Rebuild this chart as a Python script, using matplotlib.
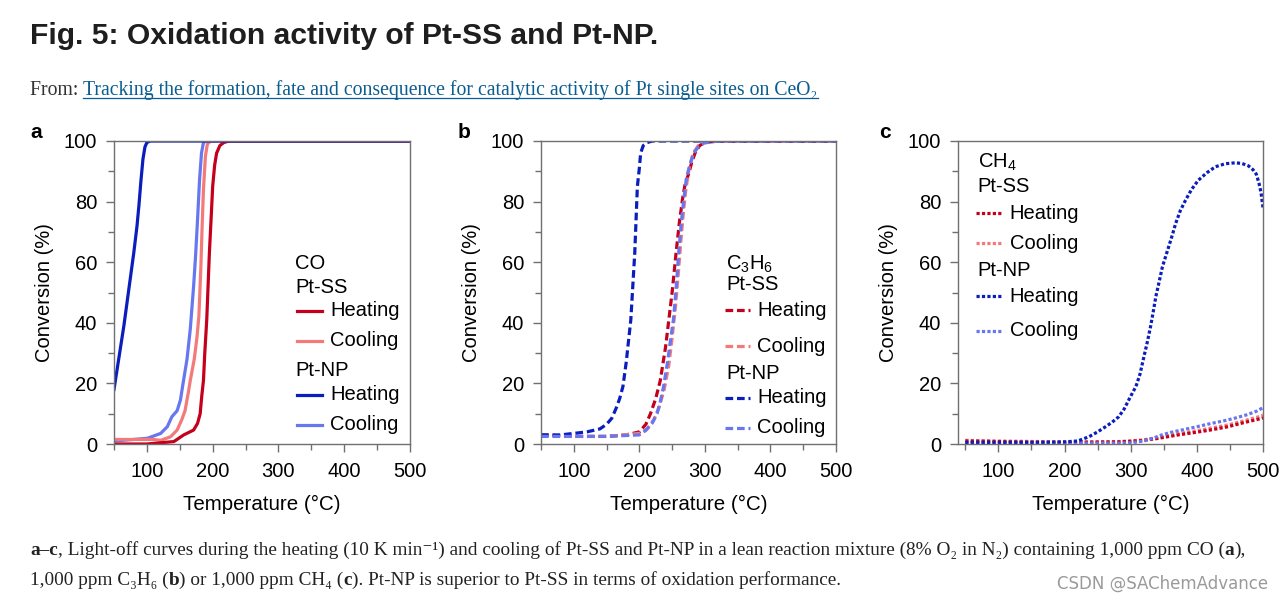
import numpy as np
import matplotlib
matplotlib.use("Agg")
import matplotlib.pyplot as plt
from matplotlib import font_manager
from matplotlib.ticker import MultipleLocator

# ---- data ----
# a: CO
co_ss_heat_T = [50, 100, 141, 156, 171, 177, 181, 183.5, 186, 188, 191, 193, 195, 198, 200, 203, 206, 211, 217, 225, 300, 400, 500]
co_ss_heat = [0, 0, 0.8, 3, 4.6, 6.8, 10, 16, 21, 30, 41, 52, 63, 76, 85, 92, 96, 98.5, 99.5, 100, 100, 100, 100]
co_ss_cool_T = [50, 80, 110, 121, 136, 146, 153, 158, 163, 166, 172, 176, 179, 182, 184, 186, 189, 192, 197, 300, 500]
co_ss_cool = [1.5, 1.5, 1.5, 1.2, 2.4, 4.6, 8, 11, 17, 21, 28, 35, 42, 58, 72, 84, 95, 99, 100, 100, 100]
co_np_heat_T = [50, 55, 60, 65, 70, 75, 80, 85, 88, 91, 94, 97, 100, 105, 110, 200, 300, 400, 500]
co_np_heat = [18, 25, 32, 39, 47, 55, 63, 72, 79, 87, 94, 98, 99.5, 100, 100, 100, 100, 100, 100]
co_np_cool_T = [50, 80, 101, 121, 131, 138, 146, 151, 155, 161, 166, 171, 174, 177, 180, 183, 186, 190, 300, 500]
co_np_cool = [1, 1.5, 1.9, 3.5, 5.7, 9, 11, 14.5, 20, 28, 38, 52, 62, 74, 87, 96, 99.5, 100, 100, 100]

# b: C3H6
c3_ss_heat_T = [50, 100, 150, 180, 200, 210, 217, 225, 232, 240, 245, 250, 256, 261, 266, 270, 275, 280, 285, 292, 300, 320, 500]
c3_ss_heat = [3, 2.5, 2.5, 3, 4, 6.5, 10, 15, 21, 32, 41, 50, 63, 73, 81, 86, 89, 93, 96, 98.5, 99.5, 100, 100]
c3_ss_cool_T = [50, 100, 150, 200, 212, 222, 230, 238, 245, 250, 255, 259, 263, 267, 271, 276, 282, 290, 300, 320, 500]
c3_ss_cool = [3, 2.5, 2.5, 3.5, 5, 8, 12, 18, 26, 35, 45, 55, 66, 76, 84, 91, 96, 98.5, 99.5, 100, 100]
c3_np_heat_T = [50, 80, 100, 120, 140, 150, 158, 165, 170, 175, 180, 184, 187, 190, 193, 195, 197, 200, 202, 206, 212, 220, 300, 400, 500]
c3_np_heat = [3, 3, 3.5, 4, 5, 6.5, 8.5, 12, 15, 19, 27, 35, 41, 52, 63, 74, 85, 91, 96, 98.5, 99.5, 100, 100, 100, 100]
c3_np_cool_T = [50, 100, 150, 200, 210, 220, 227, 232, 237, 243, 248, 252, 256, 260, 264, 268, 272, 277, 283, 290, 298, 320, 500]
c3_np_cool = [2.5, 2.5, 2.5, 3, 4.5, 7, 10, 14, 19, 27, 35, 41, 51, 63, 73, 81, 88, 92, 96, 98, 99.3, 100, 100]

# c: CH4
ch4_ss_T = [50, 100, 200, 280, 300, 320, 340, 372, 400, 420, 447, 470, 497, 500]
ch4_ss_heat = [1, 0.8, 0.5, 0.7, 0.9, 1.2, 1.8, 3, 3.9, 4.6, 5.7, 7, 8.4, 8.6]
ch4_ss_cool = [1.2, 1, 0.7, 0.8, 1, 1.4, 2.1, 3.4, 4.4, 5.2, 6.3, 7.6, 9.2, 9.5]
ch4_np_heat_T = [50, 100, 150, 200, 220, 237, 250, 262, 272, 282, 290, 297, 303, 308, 314, 320, 325, 330, 334, 338, 343, 348,
                 353, 358, 363, 368, 375, 383, 392, 402, 415, 428, 443, 458, 468, 478, 485, 490, 494, 497, 500]
ch4_np_heat = [0.5, 0.5, 0.5, 0.7, 1, 2.4, 4, 5.7, 7.2, 9, 11.5, 14.5, 17, 19, 23, 28.8, 33.5, 38.7, 43.5, 48.6, 53.5, 58.5,
               62, 65.5, 69, 72.8, 77, 80.5, 84, 87, 89.5, 91.5, 92.5, 92.8, 92.6, 91.8, 90.5, 89, 86, 83, 78]
ch4_np_cool_T = [50, 100, 200, 280, 300, 320, 335, 347, 360, 377, 400, 422, 440, 457, 475, 490, 500]
ch4_np_cool = [0.3, 0.3, 0.3, 0.3, 0.4, 1, 2, 3, 3.8, 4.6, 5.7, 6.8, 7.6, 8.5, 9.6, 10.8, 12]

xticks = [100, 200, 300, 400, 500]
yticks = [0, 20, 40, 60, 80, 100]

DRED, LRED = '#c4001c', '#f47a7a'
DBLUE, LBLUE = '#0a1dbd', '#6677f0'


def pick(*names):
    have = {f.name for f in font_manager.fontManager.ttflist}
    for n in names:
        if n in have:
            return n
    return 'DejaVu Sans'


SANS = pick('Liberation Sans', 'Arial')
NARROW = pick('Liberation Sans Narrow', 'DejaVu Sans Condensed', 'Liberation Sans')
SERIF = pick('Liberation Serif', 'DejaVu Serif')

plt.rcParams['font.family'] = [SANS, 'DejaVu Sans']
plt.rcParams['mathtext.fontset'] = 'custom'
plt.rcParams['mathtext.rm'] = SANS
plt.rcParams['mathtext.it'] = SANS + ':italic'
plt.rcParams['mathtext.bf'] = SANS + ':bold'

fig = plt.figure(figsize=(12.84, 6.01), dpi=100)
W, H = 1284, 601


def ax_at(x0, x1, y0, y1):
    return fig.add_axes([x0 / W, 1 - y1 / H, (x1 - x0) / W, (y1 - y0) / H])


axa = ax_at(114, 410, 141, 444)
axb = ax_at(541, 836, 141, 444)
axc = ax_at(958, 1263, 141, 444)

lw = 2.3
dash = (0, (2.4, 1.2))
dot = (0, (1.0, 0.7))

axa.plot(co_np_cool_T, co_np_cool, color=LBLUE, lw=lw)
axa.plot(co_ss_cool_T, co_ss_cool, color=LRED, lw=lw)
axa.plot(co_ss_heat_T, co_ss_heat, color=DRED, lw=lw)
axa.plot(co_np_heat_T, co_np_heat, color=DBLUE, lw=lw)

axb.plot(c3_ss_heat_T, c3_ss_heat, color=DRED, lw=lw, ls=dash)
axb.plot(c3_ss_cool_T, c3_ss_cool, color=LRED, lw=lw, ls=dash)
axb.plot(c3_np_heat_T, c3_np_heat, color=DBLUE, lw=lw, ls=dash)
axb.plot(c3_np_cool_T, c3_np_cool, color=LBLUE, lw=lw, ls=dash)

axc.plot(ch4_ss_T, ch4_ss_cool, color=LRED, lw=lw, ls=dot)
axc.plot(ch4_ss_T, ch4_ss_heat, color=DRED, lw=lw, ls=dot)
axc.plot(ch4_np_cool_T, ch4_np_cool, color=LBLUE, lw=lw, ls=dot)
axc.plot(ch4_np_heat_T, ch4_np_heat, color=DBLUE, lw=lw, ls=dot)

for ax, x0 in [(axa, 50), (axb, 50), (axc, 39)]:
    ax.set_xlim(x0, 500)
    ax.set_ylim(0, 100)
    ax.set_xticks(xticks)
    ax.set_yticks(yticks)
    ax.xaxis.set_minor_locator(MultipleLocator(50))
    ax.yaxis.set_minor_locator(MultipleLocator(10))
    ax.tick_params(which='both', direction='out', color='#707070', width=1, labelsize=14.5)
    ax.tick_params(which='major', length=6)
    ax.tick_params(which='minor', length=4)
    ax.tick_params(axis='x', which='both', bottom=True, top=False, pad=7)
    ax.tick_params(axis='y', which='both', pad=6)
    for s in ax.spines.values():
        s.set_color('#707070')
        s.set_linewidth(1)
    ax.set_xlabel('Temperature (°C)', fontsize=14.8, labelpad=10)
    ax.set_ylabel('Conversion (%)', fontsize=14.5, labelpad=7)


def legend(ax, x_head, x_h0, x_h1, x_txt, ys, heads, ls):
    # ys: header1, header2, heat, cool, header3, heat, cool (axes fraction)
    t = ax.transAxes
    kw = dict(transform=t, fontsize=14.5, va='center', ha='left')
    ax.text(x_head, ys[0], heads, **kw)
    ax.text(x_head, ys[1], 'Pt-SS', **kw)
    ax.text(x_head, ys[4], 'Pt-NP', **kw)
    for y, c, lab in [(ys[2], DRED, 'Heating'), (ys[3], LRED, 'Cooling'),
                      (ys[5], DBLUE, 'Heating'), (ys[6], LBLUE, 'Cooling')]:
        ax.plot([x_h0, x_h1], [y, y], transform=t, color=c, lw=lw, ls=ls, clip_on=False)
        ax.text(x_txt, y, lab, **kw)


legend(axa, 0.612, 0.618, 0.703, 0.73, [0.597, 0.518, 0.439, 0.340, 0.241, 0.162, 0.063], 'CO', '-')
legend(axb, 0.628, 0.624, 0.71, 0.732, [0.592, 0.525, 0.442, 0.323, 0.234, 0.152, 0.053], r'C$_3$H$_6$', dash)
legend(axc, 0.064, 0.059, 0.144, 0.17, [0.928, 0.851, 0.762, 0.663, 0.571, 0.488, 0.373], r'CH$_4$', dot)

for x, s in [(30, 'a'), (458, 'b'), (879, 'c')]:
    fig.text(x / W, 1 - 133 / H, s, fontsize=15, fontweight='bold', va='center', ha='left')

# ---- header / caption ----
fig.text(30 / W, 1 - 36 / H, 'Fig. 5: Oxidation activity of Pt-SS and Pt-NP.',
         family=[NARROW, 'DejaVu Sans'], fontsize=21.6, fontweight='bold', va='center', color='#1e1e1e')

renderer = fig.canvas.get_renderer()


def rich(x, y, pieces, size, family):
    xpx = x
    for s, kw in pieces:
        t = fig.text(xpx / W, 1 - y / H, s, fontsize=size, family=family, va='baseline', ha='left', **kw)
        bb = t.get_window_extent(renderer)
        if kw.get('gid') == 'link':
            ybase = 1 - (y + 3) / H
            fig.add_artist(plt.Line2D([xpx / W, bb.x1 / W], [ybase, ybase], color=kw['color'], lw=0.9,
                                      transform=fig.transFigure))
        xpx = bb.x1


cap_fam = [SERIF, 'DejaVu Serif']
rich(30, 95, [('From: ', dict(color='#333333')),
              ('Tracking the formation, fate and consequence for catalytic activity of Pt single sites on CeO₂',
               dict(color='#0b5d91', gid='link'))], 14.2, cap_fam)

B = dict(fontweight='bold', color='#222222')
N = dict(color='#222222')
rich(30, 555, [('a–c', B),
               (', Light-off curves during the heating (10 K min⁻¹) and cooling of Pt-SS and Pt-NP in a lean reaction '
                'mixture (8% O₂ in N₂) containing 1,000 ppm CO (', N), ('a', B), ('),', N)], 13.9, cap_fam)
rich(30, 585, [('1,000 ppm C₃H₆ (', N), ('b', B), (') or 1,000 ppm CH₄ (', N), ('c', B),
               ('). Pt-NP is superior to Pt-SS in terms of oxidation performance.', N)], 13.9, cap_fam)

fig.text(1268 / W, 1 - 584 / H, 'CSDN @SAChemAdvance', fontsize=12, color='#9a9a9a', ha='right', va='center',
         family=['DejaVu Sans'])

fig.savefig('out.png', dpi=100)
